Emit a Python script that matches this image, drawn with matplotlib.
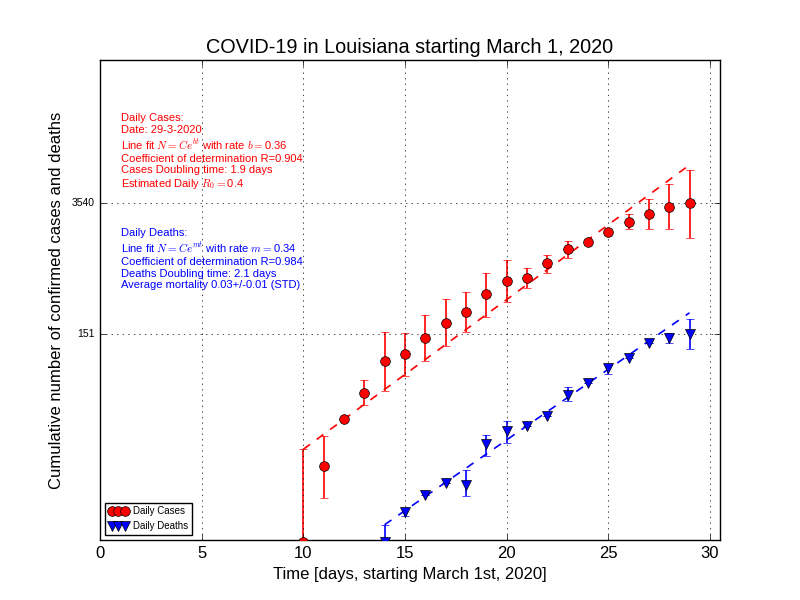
import numpy as np
import matplotlib
matplotlib.use("Agg")
import matplotlib.pyplot as plt

plt.style.use("classic")
plt.rcParams["font.family"] = ["Liberation Sans", "DejaVu Sans"]
plt.rcParams["mathtext.fontset"] = "cm"

# ── Data ──────────────────────────────────────────────────────────────────────
days = [10, 11, 12, 13, 14, 15, 16, 17, 18, 19,
        20, 21, 22, 23, 24, 25, 26, 27, 28, 29]
cases    = [1.0, 6.3, 19.5, 36, 79, 93, 136, 197, 255, 396,
            541, 582, 836, 1170, 1384, 1762, 2243, 2716, 3193, 3540]
cases_lo = [0.1, 2.9, 19.5, 27.1, 38.3, 55, 78, 112, 160, 229,
            324, 457, 656, 948, 1384, 1762, 1892, 1892, 1892, 1514]
cases_hi = [9.4, 13.0, 19.5, 49.5, 157, 153, 237, 348, 412, 661,
            891, 735, 1019, 1419, 1384, 1762, 2716, 3873, 5508, 7786]

death_days = [14, 15, 16, 17, 18, 19, 20, 21, 22, 23,
              24, 25, 26, 27, 28, 29]
deaths    = [1.0, 2.1, 3.1, 4.2, 4.0, 10.6, 14.7, 16.5, 20.8, 35,
             46, 67, 85, 122, 136, 151]
deaths_lo = [0.5, 1.9, 3.1, 4.2, 3.05, 8.05, 10.9, 16.5, 20.8, 30.3,
             46, 57.7, 85, 122, 121, 104.5]
deaths_hi = [1.53, 2.3, 3.1, 4.2, 5.7, 13.4, 18.7, 16.5, 20.8, 42.5,
             46, 73, 85, 122, 155, 218]

# exponential fits, end points (straight lines on the log axis)
cases_fit_days  = [10, 29]
cases_fit       = [9.4, 8800]
deaths_fit_days = [14, 29]
deaths_fit      = [1.53, 251]

ytick_vals = [151, 3540]

# ── Figure ────────────────────────────────────────────────────────────────────
fig, ax = plt.subplots(figsize=(8, 6), dpi=100)

c = np.array(cases)
d = np.array(deaths)
ax.errorbar(days, c, yerr=[c - np.array(cases_lo), np.array(cases_hi) - c],
            fmt="none", ecolor="r", capsize=3, lw=1.2, zorder=2)
ax.errorbar(death_days, d, yerr=[d - np.array(deaths_lo), np.array(deaths_hi) - d],
            fmt="none", ecolor="b", capsize=3, lw=1.2, zorder=2)

ax.plot(days, cases, "o", color="r", mec="k", mew=0.5, ms=7,
        label="Daily Cases", zorder=3)
ax.plot(death_days, deaths, "v", color="b", mec="k", mew=0.5, ms=7,
        label="Daily Deaths", zorder=3)

ax.plot(cases_fit_days, cases_fit, "--", color="r", lw=1.2, zorder=1)
ax.plot(deaths_fit_days, deaths_fit, "--", color="b", lw=1.2, zorder=1)

ax.set_yscale("log")
ax.set_xlim(0, 30.5)
ax.set_ylim(1.06, 1.1e5)
ax.set_yticks(ytick_vals)
ax.set_yticklabels([str(v) for v in ytick_vals], fontsize=7.5)
ax.yaxis.set_minor_locator(matplotlib.ticker.NullLocator())
ax.set_xticks([0, 5, 10, 15, 20, 25, 30])
ax.grid(True)

ax.set_title("COVID-19 in Louisiana starting March 1, 2020", fontsize=14.3)
ax.set_xlabel("Time [days, starting March 1st, 2020]", fontsize=12)
ax.set_ylabel("Cumulative number of confirmed cases and deaths", fontsize=12)

cases_txt = ("Daily Cases:\n"
             "Date: 29-3-2020\n"
             "Line fit $N=Ce^{bt}$ with rate $b=$0.36\n"
             "Coefficient of determination R=0.904\n"
             "Cases Doubling time: 1.9 days\n"
             "Estimated Daily $R_0=$0.4")
deaths_txt = ("Daily Deaths:\n"
              "Line fit $N=Ce^{mt}$ with rate $m=$0.34\n"
              "Coefficient of determination R=0.984\n"
              "Deaths Doubling time: 2.1 days\n"
              "Average mortality 0.03+/-0.01 (STD)")
ax.text(0.034, 0.889, cases_txt, transform=ax.transAxes, color="r",
        fontsize=8, va="top", ha="left", linespacing=1.2)
ax.text(0.034, 0.649, deaths_txt, transform=ax.transAxes, color="b",
        fontsize=8, va="top", ha="left", linespacing=1.18)

ax.legend(loc="lower left", numpoints=3, fontsize=7, handletextpad=0.5)

fig.savefig("out.png", dpi=100, facecolor="white")
